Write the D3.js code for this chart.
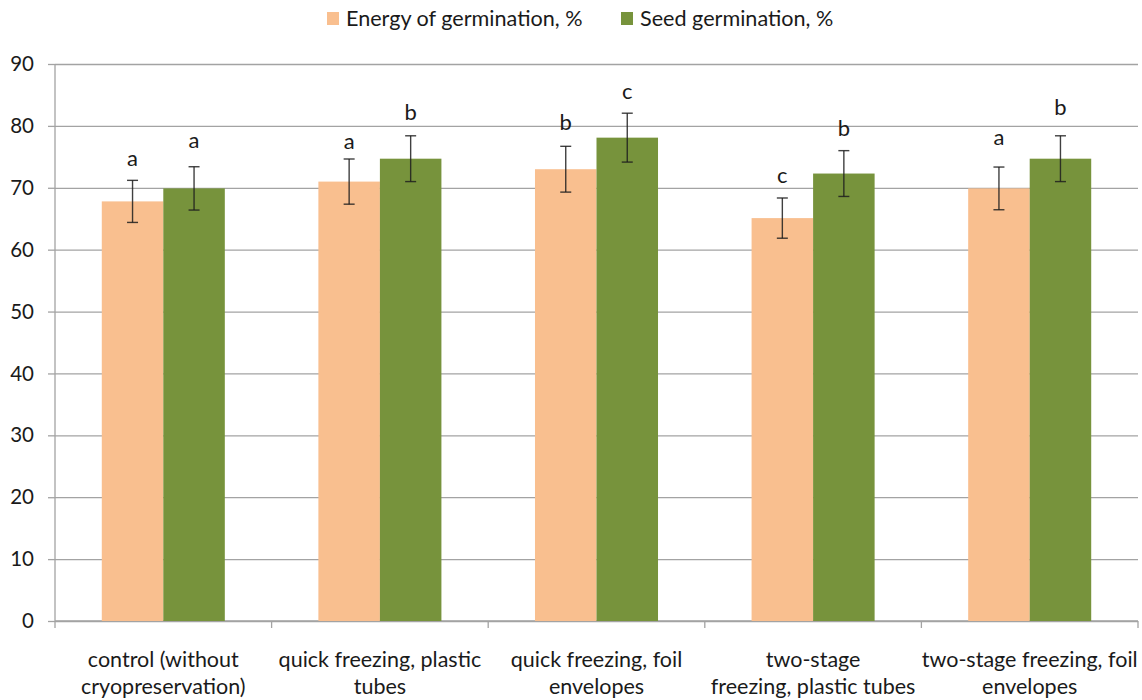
<!DOCTYPE html>
<html>
<head>
<meta charset="utf-8">
<script src="https://cdn.jsdelivr.net/npm/d3@7"></script>
<style>
  html, body { margin: 0; padding: 0; background: #ffffff; }
  svg { display: block; font-family: Lato, "Open Sans", sans-serif; }
</style>
</head>
<body>
<svg id="chart" width="1142" height="700"></svg>
<script>
// ---- data ----
const categories = [
  "control (without cryopreservation)",
  "quick freezing, plastic tubes",
  "quick freezing, foil envelopes",
  "two-stage freezing, plastic tubes",
  "two-stage freezing, foil envelopes"
];
const categoryLines = [
  ["control (without", "cryopreservation)"],
  ["quick freezing, plastic", "tubes"],
  ["quick freezing, foil", "envelopes"],
  ["two-stage", "freezing, plastic tubes"],
  ["two-stage freezing, foil", "envelopes"]
];
const seriesNames = ["Energy of germination, %", "Seed germination, %"];
const energyValues = [67.8, 71.0, 73.0, 65.1, 69.9];
const energyErrors = [3.4, 3.65, 3.7, 3.25, 3.45];
const seedValues = [69.9, 74.7, 78.1, 72.3, 74.7];
const seedErrors = [3.5, 3.7, 3.95, 3.7, 3.7];
const energyLetters = ["a", "a", "b", "c", "a"];
const seedLetters = ["a", "b", "c", "b", "b"];
// letter label baselines in data units (as placed in the picture)
const energyLetterAt = [73.5, 76.2, 79.3, 70.8, 76.9];
const seedLetterAt = [76.4, 80.9, 84.4, 78.4, 81.7];
const yTicks = [0, 10, 20, 30, 40, 50, 60, 70, 80, 90];
const colors = ["#F9BF8F", "#77933C"];

// ---- layout ----
const svg = d3.select("#chart");
const plotL = 55, plotR = 1138, plotT = 64, plotB = 621;
const textColor = "#1a1a1a";
const gridColor = "#a3a3a3";

const x0 = d3.scaleBand()
  .domain(categories)
  .range([plotL, plotR])
  .paddingInner(0.432)
  .paddingOuter(0.216);
const x1 = d3.scaleBand()
  .domain([0, 1])
  .range([0, x0.bandwidth()]);
const y = d3.scaleLinear().domain([0, 90]).range([plotB, plotT]);

// gridlines + y ticks
const yAxis = d3.axisLeft(y).tickValues(yTicks).tickSize(7).tickPadding(14);
const gy = svg.append("g").attr("transform", `translate(${plotL},0)`).call(yAxis);
gy.select(".domain").remove();
gy.selectAll(".tick line").attr("stroke", gridColor).attr("stroke-width", 1.3);
gy.selectAll(".tick text").attr("fill", textColor).style("font-size", "20.5px")
  .style("font-family", "Lato, 'Open Sans', sans-serif");
gy.selectAll(".tick").append("line")
  .attr("x1", 0).attr("x2", plotR - plotL)
  .attr("stroke", gridColor).attr("stroke-width", 1.3);

// y axis line
svg.append("line")
  .attr("x1", plotL).attr("x2", plotL)
  .attr("y1", plotT).attr("y2", plotB + 7)
  .attr("stroke", gridColor).attr("stroke-width", 1.3);

// x axis line with boundary ticks
svg.append("line")
  .attr("x1", plotL).attr("x2", plotR)
  .attr("y1", plotB).attr("y2", plotB)
  .attr("stroke", gridColor).attr("stroke-width", 1.3);
const boundaries = categories.map(c => x0(c) - x0.step() * x0.paddingInner() / 2)
  .concat([plotR]);
svg.selectAll(".xtick").data(boundaries.slice(1)).enter().append("line")
  .attr("x1", d => d).attr("x2", d => d)
  .attr("y1", plotB).attr("y2", plotB + 7)
  .attr("stroke", gridColor).attr("stroke-width", 1.3);

// bars
const rows = categories.map((c, i) => ({
  cat: c,
  vals: [
    { s: 0, v: energyValues[i], e: energyErrors[i], l: energyLetters[i], la: energyLetterAt[i] },
    { s: 1, v: seedValues[i], e: seedErrors[i], l: seedLetters[i], la: seedLetterAt[i] }
  ]
}));

const groups = svg.selectAll(".grp").data(rows).enter().append("g")
  .attr("transform", d => `translate(${x0(d.cat)},0)`);

groups.selectAll("rect").data(d => d.vals).enter().append("rect")
  .attr("x", d => x1(d.s))
  .attr("width", x1.bandwidth())
  .attr("y", d => y(d.v))
  .attr("height", d => y(0) - y(d.v))
  .attr("fill", d => colors[d.s]);

// error bars
const cap = 5.5;
const eb = groups.selectAll(".eb").data(d => d.vals).enter().append("g")
  .attr("stroke", "#1f1f1f").attr("stroke-width", 1.4).attr("stroke-opacity", 0.85);
eb.append("line")
  .attr("x1", d => x1(d.s) + x1.bandwidth() / 2).attr("x2", d => x1(d.s) + x1.bandwidth() / 2)
  .attr("y1", d => y(d.v + d.e)).attr("y2", d => y(d.v - d.e));
eb.append("line")
  .attr("x1", d => x1(d.s) + x1.bandwidth() / 2 - cap).attr("x2", d => x1(d.s) + x1.bandwidth() / 2 + cap)
  .attr("y1", d => y(d.v + d.e)).attr("y2", d => y(d.v + d.e));
eb.append("line")
  .attr("x1", d => x1(d.s) + x1.bandwidth() / 2 - cap).attr("x2", d => x1(d.s) + x1.bandwidth() / 2 + cap)
  .attr("y1", d => y(d.v - d.e)).attr("y2", d => y(d.v - d.e));

// letters
groups.selectAll(".lt").data(d => d.vals).enter().append("text")
  .attr("x", d => x1(d.s) + x1.bandwidth() / 2)
  .attr("y", d => y(d.la))
  .attr("text-anchor", "middle")
  .attr("fill", textColor)
  .style("font-size", "22px")
  .text(d => d.l);

// x labels
const xl = svg.selectAll(".xl").data(categories).enter().append("text")
  .attr("x", d => x0(d) + x0.bandwidth() / 2)
  .attr("y", 667)
  .attr("text-anchor", "middle")
  .attr("fill", textColor)
  .style("font-size", "21.5px");
xl.selectAll("tspan").data((d, i) => categoryLines[i]).enter().append("tspan")
  .attr("x", function() { return d3.select(this.parentNode).attr("x"); })
  .attr("dy", (d, i) => i === 0 ? 0 : 27)
  .text(d => d);

// legend
const legendX = [327, 621];
const lg = svg.selectAll(".lg").data(seriesNames).enter().append("g")
  .attr("transform", (d, i) => `translate(${legendX[i]},0)`);
lg.append("rect").attr("x", 0).attr("y", 12).attr("width", 12).attr("height", 13)
  .attr("fill", (d, i) => colors[i]);
lg.append("text").attr("x", 19).attr("y", 26)
  .attr("fill", textColor).style("font-size", "21.6px")
  .text(d => d);
</script>
</body>
</html>
